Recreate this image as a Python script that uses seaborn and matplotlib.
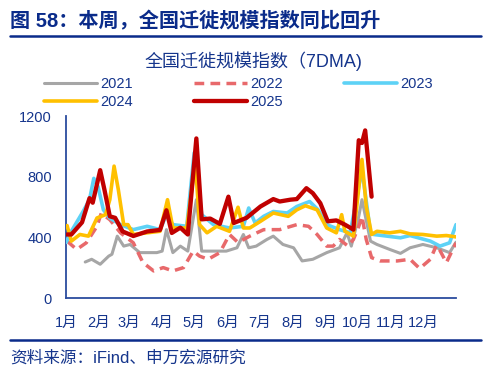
import matplotlib
matplotlib.use("Agg")
import matplotlib.pyplot as plt
from matplotlib.lines import Line2D
import seaborn as sns
import pandas as pd

# ---------------- data (day of year, index value) ----------------
months = ["1月", "2月", "3月", "4月", "5月", "6月", "7月", "8月", "9月", "10月", "11月", "12月"]
month_start_days = [0, 31, 59, 90, 120, 151, 181, 212, 243, 273, 304, 334, 365]

days_2021 = [18, 24, 32, 40, 43, 48, 54, 60, 69, 85, 90, 94, 100, 107, 114, 122, 127, 138, 150, 160,
             166, 171, 178, 188, 194, 203, 213, 221, 231, 244, 256, 263, 267, 274, 277, 285, 291, 303,
             313, 322, 334, 347, 359, 365]
vals_2021 = [238, 256, 223, 277, 289, 409, 343, 354, 300, 300, 310, 452, 300, 343, 310, 650, 310, 310,
             310, 332, 420, 332, 343, 387, 409, 354, 332, 245, 256, 300, 332, 431, 343, 540, 650, 376,
             354, 321, 295, 332, 354, 332, 300, 369]

days_2022 = [1, 10, 19, 29, 33, 41, 51, 63, 72, 82, 91, 100, 110, 119, 125, 133, 144, 153, 161, 172,
             185, 200, 216, 227, 235, 244, 250, 256, 264, 269, 274, 277, 281, 286, 294, 310, 322, 331,
             341, 347, 356, 365]
vals_2022 = [376, 321, 365, 474, 560, 518, 431, 365, 234, 179, 201, 179, 201, 310, 277, 256, 300, 420,
             367, 409, 452, 452, 485, 474, 420, 343, 343, 387, 343, 387, 474, 540, 387, 267, 245, 245,
             256, 195, 256, 354, 234, 365]

days_2023 = [0, 5, 16, 22, 26, 30, 35, 41, 51, 63, 76, 88, 94, 100, 113, 120, 127, 138, 153, 166, 171,
             177, 185, 194, 207, 216, 228, 236, 244, 256, 266, 277, 285, 288, 313, 322, 341, 350, 359,
             365]
vals_2023 = [367, 441, 572, 650, 791, 736, 583, 529, 485, 452, 474, 452, 551, 485, 474, 960, 551, 485,
             463, 474, 595, 496, 540, 572, 562, 605, 638, 583, 485, 452, 431, 850, 431, 420, 398, 413,
             376, 343, 365, 485]

days_2024 = [1, 5, 13, 21, 29, 37, 41, 45, 49, 54, 58, 63, 76, 88, 95, 100, 113, 121, 125, 132, 141,
             153, 161, 166, 172, 182, 194, 208, 216, 224, 235, 244, 253, 258, 261, 269, 277, 281, 286,
             291, 303, 313, 322, 334, 347, 356, 365]
vals_2024 = [479, 376, 420, 409, 529, 551, 650, 872, 715, 485, 485, 420, 431, 441, 650, 463, 463, 900,
             485, 431, 474, 441, 600, 463, 463, 507, 562, 540, 583, 610, 583, 463, 431, 551, 441, 409,
             916, 605, 420, 441, 431, 441, 424, 420, 409, 413, 404]

days_2025 = [1, 5, 15, 22, 25, 32, 36, 41, 46, 53, 63, 76, 88, 94, 99, 107, 114, 122, 127, 135, 144,
             152, 157, 169, 182, 194, 200, 210, 216, 225, 231, 238, 245, 253, 261, 269, 274, 277, 280,
             286]
vals_2025 = [420, 420, 500, 660, 630, 845, 715, 540, 530, 440, 410, 440, 450, 580, 430, 465, 420, 1055,
             520, 525, 490, 670, 496, 530, 605, 654, 638, 650, 654, 726, 693, 627, 507, 513, 485, 452,
             1043, 1025, 1108, 670]

series = [
    ("2021", days_2021, vals_2021),
    ("2022", days_2022, vals_2022),
    ("2023", days_2023, vals_2023),
    ("2024", days_2024, vals_2024),
    ("2025", days_2025, vals_2025),
]

title = "图 58：本周，全国迁徙规模指数同比回升"
subtitle = "全国迁徙规模指数（7DMA)"
source = "资料来源：iFind、申万宏源研究"

# ---------------- style ----------------
sns.set_style("white")
plt.rcParams["font.family"] = ["Liberation Sans", "Noto Sans CJK SC", "DejaVu Sans"]

styles = {
    "2021": dict(color="#A6A6A6", lw=2.2, ls="-", z=2),
    "2022": dict(color="#E8696B", lw=2.5, ls=(0, (2.8, 1.8)), z=3),
    "2023": dict(color="#5DD2F6", lw=2.6, ls="-", z=4),
    "2024": dict(color="#FFC000", lw=2.6, ls="-", z=5),
    "2025": dict(color="#C00000", lw=3.1, ls="-", z=6),
}

TEXT = "#15358C"
AXIS = "#2B4C9E"
TITLE = "#0A2B8A"

W, H = 488, 368
fig = plt.figure(figsize=(W / 100, H / 100), dpi=100)
ax = fig.add_axes([66 / W, 1 - 298 / H, 390 / W, (298 - 116.5) / H])

handles = {}
for name, d, v in series:
    st = styles[name]
    df = pd.DataFrame({"day": d, "value": v})
    sns.lineplot(data=df, x="day", y="value", ax=ax, color=st["color"], linewidth=st["lw"],
                 linestyle=st["ls"], estimator=None, sort=False, zorder=st["z"])
    handles[name] = Line2D([0], [0], color=st["color"], lw=st["lw"], ls=st["ls"])

ax.set_xlim(0, 365)
ax.set_ylim(0, 1200)
ax.set_xlabel("")
ax.set_ylabel("")
ax.set_xticks(month_start_days)
ax.set_xticklabels(months + [""])
ax.set_yticks([0, 400, 800, 1200])
ax.set_yticklabels(["0", "400", "800", "1200"])

for s in ["top", "right"]:
    ax.spines[s].set_visible(False)
for s in ["left", "bottom"]:
    ax.spines[s].set_visible(True)
    ax.spines[s].set_color(AXIS)
    ax.spines[s].set_linewidth(1.3)
ax.tick_params(axis="both", direction="out", length=4, width=1.1, color=AXIS,
               labelsize=10.5, labelcolor=TEXT, pad=6)
ax.tick_params(axis="x", pad=9)
ax.grid(False)

order = ["2021", "2024", "2022", "2025", "2023"]
fig.legend([handles[k] for k in order], order, loc="upper left",
           bbox_to_anchor=(44 / W, 1 - 77 / H), ncol=3, frameon=False,
           fontsize=10.5, labelcolor=TEXT, handlelength=3.6, handletextpad=0.25,
           columnspacing=4.2, labelspacing=0.25, borderpad=0, borderaxespad=0)

fig.text(10 / W, 1 - 21 / H, title, fontsize=14.5, fontweight="bold", color=TITLE,
         ha="left", va="center")
fig.add_artist(Line2D([10 / W, 481 / W], [1 - 36 / H, 1 - 36 / H], color=TITLE, lw=1.8))
fig.text(253 / W, 1 - 61 / H, subtitle, fontsize=13, color=TEXT, ha="center", va="center")
fig.add_artist(Line2D([10 / W, 481 / W], [1 - 340 / H, 1 - 340 / H], color=TITLE, lw=1.8))
fig.text(10 / W, 1 - 358 / H, source, fontsize=12, color=TEXT, ha="left", va="center")

fig.savefig("out.png", dpi=100)
